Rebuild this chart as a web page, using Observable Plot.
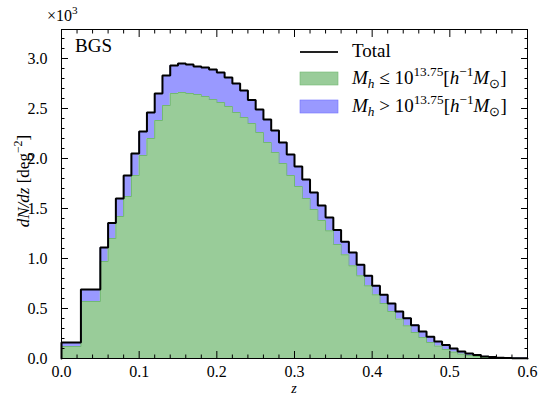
<!DOCTYPE html>
<html>
<head>
<meta charset="utf-8">
<script src="https://cdn.jsdelivr.net/npm/d3@7"></script>
<script src="https://cdn.jsdelivr.net/npm/@observablehq/plot@0.6"></script>
<style>
  html, body { margin: 0; padding: 0; background: white; }
  svg { display: block; }
  svg text { font-family: "Liberation Serif", serif; }
</style>
</head>
<body>
<div id="chart"></div>
<script>
// Bin edges in redshift z
const binEdges = [0, 0.025, 0.05, 0.06, 0.07, 0.08, 0.09, 0.10, 0.11, 0.12, 0.13, 0.14, 0.15, 0.16, 0.17, 0.18, 0.19,
  0.20, 0.21, 0.22, 0.23, 0.24, 0.25, 0.26, 0.27, 0.28, 0.29, 0.30, 0.31, 0.32, 0.33, 0.34, 0.35, 0.36, 0.37, 0.38, 0.39,
  0.40, 0.41, 0.42, 0.43, 0.44, 0.45, 0.46, 0.47, 0.48, 0.49, 0.50, 0.51, 0.52, 0.53, 0.54, 0.55, 0.56, 0.57, 0.58, 0.59, 0.60];

// dN/dz in units of 10^3 deg^-2
const totalValues = [0.16, 0.69, 1.11, 1.355, 1.60, 1.83, 2.05, 2.27, 2.46, 2.65, 2.83, 2.93, 2.95, 2.94, 2.92, 2.91, 2.89,
  2.86, 2.81, 2.75, 2.68, 2.585, 2.49, 2.39, 2.28, 2.16, 2.04, 1.92, 1.79, 1.66, 1.53, 1.41, 1.284, 1.167, 1.06, 0.937, 0.827,
  0.727, 0.637, 0.55, 0.47, 0.403, 0.333, 0.27, 0.217, 0.17, 0.135, 0.10, 0.07, 0.05, 0.034, 0.021, 0.014, 0.008, 0.005, 0.003, 0.002];

const lowMassValues = [0.12, 0.57, 0.97, 1.20, 1.42, 1.62, 1.83, 2.03, 2.20, 2.38, 2.53, 2.65, 2.66, 2.65, 2.64, 2.62, 2.59,
  2.56, 2.52, 2.46, 2.41, 2.35, 2.26, 2.16, 2.06, 1.95, 1.83, 1.72, 1.60, 1.49, 1.38, 1.277, 1.14, 1.037, 0.927, 0.827, 0.727,
  0.637, 0.55, 0.47, 0.394, 0.327, 0.26, 0.21, 0.16, 0.124, 0.09, 0.064, 0.044, 0.03, 0.02, 0.012, 0.008, 0.005, 0.003, 0.002, 0.001];

const xTicks = [0, 0.1, 0.2, 0.3, 0.4, 0.5, 0.6];
const xMinorTicks = [0.02, 0.04, 0.06, 0.08, 0.12, 0.14, 0.16, 0.18, 0.22, 0.24, 0.26, 0.28, 0.32, 0.34, 0.36, 0.38,
  0.42, 0.44, 0.46, 0.48, 0.52, 0.54, 0.56, 0.58];
const yTicks = [0, 0.5, 1.0, 1.5, 2.0, 2.5, 3.0];
const yMinorTicks = [0.1, 0.2, 0.3, 0.4, 0.6, 0.7, 0.8, 0.9, 1.1, 1.2, 1.3, 1.4, 1.6, 1.7, 1.8, 1.9, 2.1, 2.2, 2.3, 2.4,
  2.6, 2.7, 2.8, 2.9, 3.1, 3.2];

// Step rows: each bin contributes its left and right edge at the bin value
const stepRows = totalValues.flatMap((t, i) => [
  {x: binEdges[i], total: t, low: lowMassValues[i]},
  {x: binEdges[i + 1], total: t, low: lowMassValues[i]}
]);
const lineRows = [{x: binEdges[0], total: 0}, ...stepRows, {x: binEdges[binEdges.length - 1], total: 0}];

const GREEN = "#99cc99", GREEN_EDGE = "#72b872";
const BLUE = "#9999ff", BLUE_EDGE = "#7272ff";
const FONT = "Liberation Serif";

const chart = Plot.plot({
  width: 539,
  height: 396,
  marginLeft: 61,
  marginRight: 12,
  marginTop: 29,
  marginBottom: 38,
  x: {domain: [0, 0.6], label: null},
  y: {domain: [0, 3.29], label: null},
  style: {fontFamily: "'Liberation Serif', serif", fontSize: "16px", background: "white", color: "black", overflow: "visible"},
  marks: [
    Plot.areaY(stepRows, {x: "x", y1: 0, y2: "low", fill: GREEN, curve: "linear"}),
    Plot.areaY(stepRows, {x: "x", y1: "low", y2: "total", fill: BLUE, curve: "linear"}),
    Plot.line(stepRows, {x: "x", y: "low", stroke: GREEN_EDGE, strokeWidth: 1, curve: "linear"}),
    Plot.line(stepRows, {x: "x", y: "total", stroke: BLUE_EDGE, strokeWidth: 1, curve: "linear"}),
    Plot.line(lineRows, {x: "x", y: "total", stroke: "black", strokeWidth: 2, curve: "linear", strokeLinejoin: "miter"}),
    Plot.frame({stroke: "black", strokeWidth: 1}),
    // tick labels
    Plot.axisX(xTicks, {anchor: "bottom", tickSize: 0, tickPadding: 7, fontSize: 16, fontFamily: FONT, tickFormat: d3.format(".1f")}),
    Plot.axisY(yTicks, {anchor: "left", tickSize: 0, tickPadding: 14, fontSize: 16, fontFamily: FONT, tickFormat: d3.format(".1f")}),
    // inward ticks on all sides
    Plot.axisX(xTicks, {anchor: "bottom", tickSize: -7, tickFormat: () => ""}),
    Plot.axisX(xMinorTicks, {anchor: "bottom", tickSize: -3.5, tickFormat: () => ""}),
    Plot.axisX(xTicks, {anchor: "top", tickSize: -7, tickFormat: () => ""}),
    Plot.axisX(xMinorTicks, {anchor: "top", tickSize: -3.5, tickFormat: () => ""}),
    Plot.axisY(yTicks, {anchor: "left", tickSize: -7, tickFormat: () => ""}),
    Plot.axisY(yMinorTicks, {anchor: "left", tickSize: -3.5, tickFormat: () => ""}),
    Plot.axisY(yTicks, {anchor: "right", tickSize: -7, tickFormat: () => ""}),
    Plot.axisY(yMinorTicks, {anchor: "right", tickSize: -3.5, tickFormat: () => ""})
  ]
});

document.getElementById("chart").appendChild(chart);

// remove empty tick-label texts left by the tick-only axes
d3.select(chart).selectAll("text").filter(function() { return this.textContent === ""; }).remove();

// ---- annotations (rich text) ----
const svg = d3.select(chart);

function richText(parent, x, y, parts, size, opts = {}) {
  const t = parent.append("text")
    .attr("x", x).attr("y", y)
    .attr("font-family", FONT)
    .attr("font-size", size)
    .attr("fill", "black")
    .attr("text-anchor", opts.anchor || "start");
  if (opts.transform) t.attr("transform", opts.transform);
  let cur = 0;
  for (const p of parts) {
    const off = p.sup ? -size * 0.42 : p.sub ? size * 0.22 : 0;
    const ts = t.append("tspan").text(p.t);
    if (off - cur !== 0) ts.attr("dy", off - cur);
    cur = off;
    if (p.sup || p.sub) ts.attr("font-size", size * 0.7);
    if (p.it) ts.attr("font-style", "italic");
  }
  return t;
}

// multiplier
richText(svg, 47, 21, [{t: "×10"}, {t: "3", sup: true}], 16);
// sample name
richText(svg, 75, 52, [{t: "BGS"}], 19);
// x label
richText(svg, 294, 392.5, [{t: "z", it: true}], 14, {anchor: "middle"});
// y label
richText(svg, 0, 0, [{t: "dN/dz", it: true}, {t: " [deg"}, {t: "−2", sup: true}, {t: "]"}], 17,
  {anchor: "middle", transform: "translate(29,181) rotate(-90)"});

// legend
const lg = svg.append("g");
lg.append("line").attr("x1", 300).attr("x2", 338).attr("y1", 52).attr("y2", 52)
  .attr("stroke", "#222").attr("stroke-width", 2);
lg.append("rect").attr("x", 300).attr("y", 72).attr("width", 38).attr("height", 13)
  .attr("fill", GREEN).attr("stroke", GREEN_EDGE).attr("stroke-width", 0.6);
lg.append("rect").attr("x", 300).attr("y", 100).attr("width", 38).attr("height", 13)
  .attr("fill", BLUE).attr("stroke", BLUE_EDGE).attr("stroke-width", 0.6);
richText(lg, 352, 57, [{t: "Total"}], 19);
const massParts = (rel) => [
  {t: "M", it: true}, {t: "h", it: true, sub: true}, {t: " " + rel + " 10"}, {t: "13.75", sup: true},
  {t: "["}, {t: "h", it: true}, {t: "−1", sup: true}, {t: "M", it: true}, {t: "⊙", sub: true}, {t: "]"}
];
richText(lg, 352, 84, massParts("≤"), 19);
richText(lg, 352, 112, massParts(">"), 19);
</script>
</body>
</html>
